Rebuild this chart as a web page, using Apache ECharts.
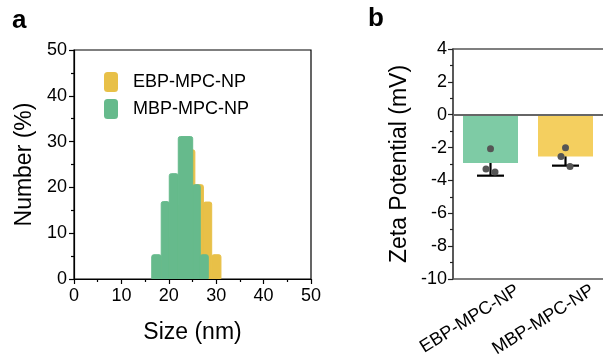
<!DOCTYPE html>
<html><head><meta charset="utf-8">
<script src="https://cdn.jsdelivr.net/npm/echarts@6/dist/echarts.min.js"></script>
<style>html,body{margin:0;padding:0;background:#fff}#c{width:603px;height:362px}</style>
</head><body><div id="c"></div>
<script>
// Panel a: size distribution histogram (bin edges in nm, heights in %)
const ebpEdges = [18.1, 19.9, 21.7, 23.6, 25.5, 27.3, 29.05, 31.0];
const ebpHeights = [4, 9, 16, 28.2, 20.6, 16.8, 5.3];
const mbpEdges = [16.4, 18.4, 20.1, 22.0, 25.04, 26.64, 28.33];
const mbpHeights = [5.3, 16.9, 23.0, 31.1, 20.6, 5.3];
const sizeTicks = [0, 10, 20, 30, 40, 50];
// Panel b: zeta potential
const categories = ['EBP-MPC-NP', 'MBP-MPC-NP'];
const zetaMeans = [-2.94, -2.54];
const zetaErrLow = [-3.71, -3.10];
const zetaPoints = [[-2.07, -3.31, -3.49], [-2.01, -2.54, -3.15]];
const jitter = [0, -0.06, 0.06];
const zetaMin = -10, zetaMax = 4;

const FONT = 'Liberation Sans, Arial, Helvetica, sans-serif';
const cYellow = '#E8C048', cGreen = '#66BA8C';
const bGreen = '#7ECBA5', bYellow = '#F4CF5F';

function bins(edges, h) { return h.map((v, i) => [edges[i], edges[i + 1], v]); }
function histItem(params, api) {
  const a = api.coord([api.value(0), api.value(2)]);
  const b = api.coord([api.value(1), 0]);
  const col = api.visual('color');
  return { type: 'rect', shape: { x: a[0], y: a[1], width: b[0] - a[0], height: b[1] - a[1] - 0.5, r: [2, 2, 0, 0] },
    style: { fill: col, stroke: col, lineWidth: 1 } };
}
const pts = [];
zetaPoints.forEach((arr, ci) => arr.forEach((v, j) => pts.push([ci, v, jitter[j]])));

const chart = echarts.init(document.getElementById('c'));
const axisTxt = { color: '#000', fontSize: 18, fontFamily: FONT };
const frameLine = { show: true, onZero: false, lineStyle: { color: '#555', width: 1.5 } };
chart.setOption({
  animation: false,
  textStyle: { fontFamily: FONT },
  legend: {
    data: ['EBP-MPC-NP', 'MBP-MPC-NP'], orient: 'vertical', left: 99, top: 67,
    itemWidth: 14, itemHeight: 20, itemGap: 7, icon: 'roundRect',
    textStyle: { fontSize: 18, color: '#000', fontFamily: FONT, padding: [0, 0, 0, 10] }
  },
  grid: [
    { left: 74, top: 50, width: 237, height: 229, show: true, borderColor: '#000', borderWidth: 1.2, backgroundColor: 'transparent' },
    { left: 453, top: 49, width: 155, height: 230, show: false }
  ],
  xAxis: [
    { gridIndex: 0, type: 'value', min: 0, max: 50, interval: 10,
      axisLine: { onZero: false, lineStyle: { color: '#000', width: 1.2 } },
      axisTick: { length: 5, lineStyle: { color: '#000', width: 1.2 } },
      minorTick: { show: true, splitNumber: 2, length: 3, lineStyle: { color: '#000', width: 1.2 } },
      splitLine: { show: false },
      axisLabel: Object.assign({ margin: 8, formatter: v => sizeTicks.includes(v) ? String(v) : '' }, axisTxt),
      name: 'Size (nm)', nameLocation: 'middle', nameGap: 42,
      nameTextStyle: { fontSize: 23, color: '#000', fontFamily: FONT } },
    { gridIndex: 1, type: 'category', data: categories, position: 'bottom',
      axisLine: frameLine, axisTick: { show: false }, axisLabel: { show: false } },
    { gridIndex: 1, type: 'category', data: categories, position: 'top',
      axisLine: frameLine, axisTick: { show: false }, axisLabel: { show: false } }
  ],
  yAxis: [
    { gridIndex: 0, type: 'value', min: 0, max: 50, interval: 10,
      axisLine: { show: true, onZero: false, lineStyle: { color: '#000', width: 1.2 } },
      axisTick: { show: true, length: 5, lineStyle: { color: '#000', width: 1.2 } },
      minorTick: { show: true, splitNumber: 2, length: 3, lineStyle: { color: '#000', width: 1.2 } },
      splitLine: { show: false },
      axisLabel: Object.assign({ margin: 7 }, axisTxt),
      name: 'Number (%)', nameLocation: 'middle', nameGap: 38,
      nameTextStyle: { fontSize: 23, color: '#000', fontFamily: FONT } },
    { gridIndex: 1, type: 'value', min: zetaMin, max: zetaMax, interval: 2,
      axisLine: { show: true, onZero: false, lineStyle: { color: '#222', width: 1.5 } },
      axisTick: { show: true, length: 5, lineStyle: { color: '#222', width: 1.2 } },
      minorTick: { show: true, splitNumber: 2, length: 3, lineStyle: { color: '#222', width: 1.2 } },
      splitLine: { show: false },
      axisLabel: Object.assign({ margin: 6 }, axisTxt),
      name: 'Zeta Potential (mV)', nameLocation: 'middle', nameGap: 42,
      nameTextStyle: { fontSize: 23, color: '#000', fontFamily: FONT } }
  ],
  series: [
    { name: 'EBP-MPC-NP', type: 'custom', xAxisIndex: 0, yAxisIndex: 0, renderItem: histItem,
      itemStyle: { color: cYellow }, encode: { x: [0, 1], y: 2 }, data: bins(ebpEdges, ebpHeights), z: 2 },
    { name: 'MBP-MPC-NP', type: 'custom', xAxisIndex: 0, yAxisIndex: 0, renderItem: histItem,
      itemStyle: { color: cGreen }, encode: { x: [0, 1], y: 2 }, data: bins(mbpEdges, mbpHeights), z: 3 },
    { name: 'zeta', type: 'bar', xAxisIndex: 1, yAxisIndex: 1, barWidth: 55,
      data: zetaMeans.map((v, i) => ({ value: v, itemStyle: { color: i === 0 ? bGreen : bYellow } })),
      markLine: { silent: true, symbol: 'none', label: { show: false },
        lineStyle: { color: '#666', width: 2, type: 'solid' }, data: [{ yAxis: 0 }] }, z: 2 },
    { name: 'err', type: 'custom', xAxisIndex: 1, yAxisIndex: 1,
      data: zetaMeans.map((m, i) => [i, m, zetaErrLow[i]]),
      encode: { x: 0, y: [1, 2] },
      renderItem: function (params, api) {
        const p0 = api.coord([api.value(0), api.value(1)]);
        const p1 = api.coord([api.value(0), api.value(2)]);
        const hw = 13.5;
        return { type: 'group', children: [
          { type: 'line', shape: { x1: p0[0], y1: p0[1], x2: p1[0], y2: p1[1] }, style: { stroke: '#000', lineWidth: 2.2 } },
          { type: 'line', shape: { x1: p1[0] - hw, y1: p1[1], x2: p1[0] + hw, y2: p1[1] }, style: { stroke: '#000', lineWidth: 2.2 } }
        ] };
      }, z: 4 },
    { name: 'pts', type: 'custom', xAxisIndex: 1, yAxisIndex: 1, data: pts,
      encode: { x: 0, y: 1 },
      renderItem: function (params, api) {
        const p = api.coord([api.value(0), api.value(1)]);
        const band = api.size([1, 0])[0];
        return { type: 'circle', shape: { cx: p[0] + api.value(2) * band, cy: p[1], r: 3.5 }, style: { fill: '#555' } };
      }, z: 5 }
  ]
});

// panel letters and rotated category labels positioned from the axis scale
const graphics = [
  { type: 'text', left: 12, top: 8, style: { text: 'a', font: 'bold 26px ' + FONT, fill: '#000' } },
  { type: 'text', left: 368, top: 6, style: { text: 'b', font: 'bold 26px ' + FONT, fill: '#000' } }
];
const yBottom = chart.convertToPixel({ yAxisIndex: 1 }, zetaMin);
const cx = categories.map(c => chart.convertToPixel({ xAxisIndex: 1 }, c));
categories.forEach((c, i) => {
  graphics.push({ type: 'text', x: cx[i] + 27, y: yBottom + 10, rotation: 32 * Math.PI / 180,
    style: { text: c, x: 0, y: 0, align: 'right', verticalAlign: 'middle', font: '18px ' + FONT, fill: '#000' } });
});
chart.setOption({ graphic: graphics });
</script></body></html>
